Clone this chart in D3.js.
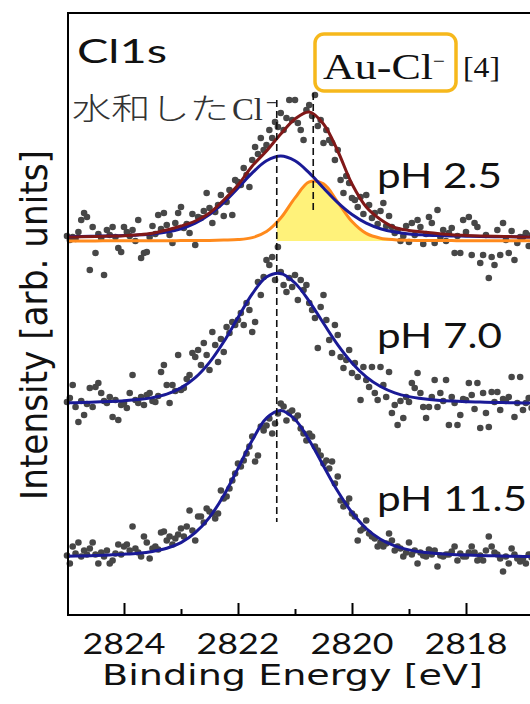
<!DOCTYPE html>
<html>
<head>
<meta charset="utf-8">
<script src="https://cdn.jsdelivr.net/npm/d3@7"></script>
<style>
body { margin: 0; background: #fff; }
</style>
</head>
<body>
<svg id="chart" width="530" height="704"></svg>
<script>
// energy grid of the fitted curves [eV]
let curveE = [2825, 2824.75, 2824.5, 2824.25, 2824, 2823.75, 2823.5, 2823.25, 2823, 2822.75,
    2822.5, 2822.25, 2822, 2821.75, 2821.5, 2821.25, 2821, 2820.75, 2820.5, 2820.25,
    2820, 2819.75, 2819.5, 2819.25, 2819, 2818.75, 2818.5, 2818.25, 2818, 2817.75,
    2817.5, 2817.25, 2817, 2816.75];

// fitted components (height above own baseline, arb. units)
let fitBlue25 = [1.3, 1.5, 1.8, 2.1, 2.5, 3.1, 4.1, 6.0, 9.3, 14.9, 23.5, 35.4, 50.0, 65.1, 77.2, 82.0,
    77.2, 65.1, 50.0, 35.4, 23.5, 14.9, 9.3, 6.0, 4.1, 3.1, 2.5, 2.1, 1.8, 1.5, 1.3, 1.2, 1.1, 0.9];
let fitOrange25 = [0.1, 0.1, 0.1, 0.2, 0.2, 0.2, 0.3, 0.3, 0.4, 0.5, 0.6, 0.9, 1.4, 3.4, 9.4, 22.9,
    43.1, 59.2, 57.1, 38.9, 19.5, 7.6, 2.8, 1.3, 0.8, 0.6, 0.5, 0.4, 0.3, 0.3, 0.2, 0.2, 0.2, 0.1];
let fitTotal25 = [1.0, 1.2, 1.5, 1.9, 2.3, 3.2, 4.8, 8.0, 12.0, 17.0, 25.0, 38, 53, 72, 87, 104,
    119, 126, 114, 87, 54, 31, 18.5, 10.5, 7.5, 6, 4.5, 3.3, 2.6, 2.1, 1.7, 1.4, 1.1, 1.0];
let fitBlue70 = [2.2, 2.5, 3.0, 3.5, 4.2, 5.4, 7.4, 10.9, 17.1, 27.3, 42.6, 63.2, 87.4, 111.1, 128.0,
    131.5, 122.0, 103.7, 81.7, 60.2, 42.1, 28.2, 18.5, 12.2, 8.4, 6.2, 4.8, 3.9, 3.3, 2.9, 2.5, 2.3, 2.0, 1.8];
let fitBlue115 = [2.3, 2.6, 3.0, 3.6, 4.3, 5.3, 7.1, 10.2, 15.9, 25.8, 41.2, 63.1, 90.1, 118.2, 140.3,
    147.9, 139.0, 118.3, 92.5, 67.2, 46.0, 30.0, 19.3, 12.6, 8.6, 6.3, 5.0, 4.1, 3.5, 3.0, 2.7, 2.3, 2.1, 1.9];

// measured points, one every 0.05 eV starting at 2825 eV
let scanStart = 2825;
let scanStep = 0.05;
let counts25 = [
    2, -2, 1, -1, 6, 18, 25, 21, -32, 11, -15, 4, 0, -37, 8, 3, 11, 1, -10, -14,
    11, 6, 2, 8, -3, 18, -20, -15, -14, 1, 12, 4, 23, 9, 25, 13, 3, -5, 15, 25,
    31, 10, 14, 5, 24, -7, 21, 20, 27, 45, 30, 15, 26, 33, 43, 22, 36, 48, 23, 58,
    56, 53, 70, 63, 51, 78, 91, 84, 100, 88, 93, 108, 100, 116, 111, 125, 108, 120, 138, 118,
    138, 115, 108, 98, 128, 133, 122, 143, 112, 118, 95, 108, 98, 95, 78, 88, 58, 45, 62, 55,
    40, 38, 31, 41, 24, 43, 33, 20, 25, 14, 27, 35, 12, 22, 11, 5, 8, -3, 2, 12,
    -4, 15, 3, 18, 11, -6, 4, 21, 15, -5, 28, 1, 8, -3, 5, 10, -15, 2, -15, 18,
    6, 21, -17, 15, 11, -25, -17, 3, -40, -19, -27, 8, -17, 15, -2, -15, 7, -22, -5, 1,
    1, 5, -8, 3, 0];
let counts70 = [
    3, 7, 20, -2, -17, 4, -10, 1, 17, -2, 18, 22, 12, 4, 2, 8, -12, 5, -15, 0,
    2, -3, 12, 30, 5, 2, 8, 0, 10, 12, 4, 3, 9, 33, 40, 20, 2, 20, 14, 50,
    15, 17, 26, 30, 52, 48, 55, 40, 62, 50, 35, 73, 60, 43, 66, 53, 78, 72, 83, 80,
    85, 92, 80, 102, 95, 73, 83, 123, 110, 128, 145, 140, 148, 125, 158, 133, 120, 113, 127, 118,
    130, 105, 125, 115, 120, 102, 95, 87, 57, 98, 110, 85, 65, 52, 80, 70, 48, 37, 45, 55,
    32, 42, 28, 5, 38, 25, 18, 38, 12, 5, 38, 20, 8, 33, -8, 0, -20, 4, -13, 8,
    3, 22, 17, 32, 12, -2, -13, -2, 8, 25, -2, 12, 4, 25, -20, 8, 2, -20, -10, 6,
    5, 22, 10, -4, 22, -23, 12, -8, -22, 13, 3, 13, -5, 6, 4, 8, 28, -12, 2, 28,
    -5, 2, 7, -3, 4];
let counts115 = [
    3, -5, 12, 5, 16, 2, 8, 4, 10, 16, 4, -5, 6, 2, 8, -5, -2, 5, 14, 4,
    12, 14, 8, 32, 10, 6, 2, 22, 16, 0, 10, 12, 9, 26, 27, 18, 22, 14, 20, 24,
    30, 22, 32, 48, 28, 18, 42, 42, 36, 50, 47, 45, 40, 45, 68, 60, 62, 70, 78, 85,
    95, 92, 98, 105, 112, 122, 97, 103, 132, 128, 133, 140, 125, 135, 145, 155, 152, 138, 146, 148,
    140, 143, 130, 125, 118, 125, 122, 112, 108, 103, 95, 98, 90, 97, 75, 82, 58, 52, 55, 60,
    45, 42, 18, 28, 30, 38, 25, 22, 20, 12, 16, 12, 15, 25, 18, 8, 12, 10, 2, 6,
    16, 4, 8, -5, 6, 3, 2, 9, 4, 8, -8, 3, 2, 4, 4, 7, 12, -2, 5, 2,
    2, 6, 12, 6, -2, 3, -2, 8, 22, 12, 6, 4, 0, -13, 2, -5, 10, 4, 0, -3,
    0, -5, 4, 1, -2];

let phLabels = ["pH 2.5", "pH 7.0", "pH 11.5"];
let baselines = [377, 210, 56.5];
let orangeBaseline = 374;
let majorTicks = [2824, 2822, 2820, 2818];
let minorTicks = [2823, 2821, 2819];
// dashed markers: hydrated Cl- and Au-Cl- positions
let peakE = [2821.32, 2820.68];
let peakTop = [515, 522];
let peakBottom = [93, 403];

// text squeezed/stretched horizontally to a given width (the source figure is stretched)
function addText(svg, str, px, py, size, family, len, color) {
    let t = svg.append("text")
        .attr("font-family", family)
        .attr("font-size", size)
        .attr("fill", color || "#111")
        .text(str);
    let natural = t.node().getComputedTextLength();
    t.attr("transform", "translate(" + px + "," + py + ") scale(" + (len / natural) + ",1)");
    return t;
}

function drawChart() {
    let svg = d3.select("#chart");
    let x = d3.scaleLinear().domain([2825, 2816.8]).range([67, 534.4]);
    let y = d3.scaleLinear().domain([0, 602]).range([615, 13]);

    let scanE = counts25.map((v, i) => scanStart - scanStep * i);
    let spectra = [counts25, counts70, counts115];

    spectra.forEach((counts, k) => {
        svg.append("g").selectAll("circle").data(counts).join("circle")
            .attr("cx", (d, i) => x(scanE[i]))
            .attr("cy", d => y(d + baselines[k]))
            .attr("r", 3.3)
            .attr("fill", "#474747");
    });

    // yellow part of the Au-Cl- component, right of the hydrated Cl- line
    svg.append("clipPath").attr("id", "auClip").append("rect")
        .attr("x", x(peakE[0])).attr("y", 0)
        .attr("width", 600).attr("height", 704);
    let area = d3.area()
        .x((d, i) => x(curveE[i]))
        .y0(y(orangeBaseline))
        .y1(d => y(d + orangeBaseline))
        .curve(d3.curveCatmullRom);
    svg.append("path").datum(fitOrange25)
        .attr("d", area)
        .attr("fill", "#fff27a")
        .attr("clip-path", "url(#auClip)");

    function fitLine(values, base, color) {
        let line = d3.line()
            .x((d, i) => x(curveE[i]))
            .y(d => y(d + base))
            .curve(d3.curveCatmullRom);
        svg.append("path").datum(values)
            .attr("d", line)
            .attr("fill", "none")
            .attr("stroke", color)
            .attr("stroke-width", 3);
    }
    fitLine(fitOrange25, orangeBaseline, "#ff8a1c");
    fitLine(fitBlue25, baselines[0], "#1a1a96");
    fitLine(fitTotal25, baselines[0], "#801818");
    fitLine(fitBlue70, baselines[1], "#1a1a96");
    fitLine(fitBlue115, baselines[2], "#1a1a96");

    for (let i = 0; i < peakE.length; ++i) {
        svg.append("line")
            .attr("x1", x(peakE[i])).attr("x2", x(peakE[i]))
            .attr("y1", y(peakTop[i])).attr("y2", y(peakBottom[i]))
            .attr("stroke", "#111")
            .attr("stroke-width", 1.6)
            .attr("stroke-dasharray", "7,4");
    }

    // frame
    svg.append("rect")
        .attr("x", 68).attr("y", 13)
        .attr("width", 480).attr("height", 602)
        .attr("fill", "none")
        .attr("stroke", "#000")
        .attr("stroke-width", 2);

    let gMajor = svg.append("g").attr("transform", "translate(0,615)")
        .call(d3.axisBottom(x).tickValues(majorTicks).tickSize(-12).tickSizeOuter(0).tickFormat(""));
    let gMinor = svg.append("g").attr("transform", "translate(0,615)")
        .call(d3.axisBottom(x).tickValues(minorTicks).tickSize(-6).tickSizeOuter(0).tickFormat(""));
    [gMajor, gMinor].forEach(g => {
        g.select(".domain").remove();
        g.selectAll("line").attr("stroke", "#000").attr("stroke-width", 2);
    });
    let tickW = 83;
    majorTicks.forEach(t => addText(svg, String(t), x(t) - tickW / 2, 654, 29, "Lato", tickW));

    addText(svg, "Binding Energy [eV]", 102, 685, 28, "DejaVu Sans", 381);

    let yLabel = svg.append("text")
        .attr("text-anchor", "middle")
        .attr("font-family", "DejaVu Sans")
        .attr("font-size", 29)
        .attr("fill", "#111")
        .text("Intensity [arb. units]");
    let yLen = yLabel.node().getComputedTextLength();
    yLabel.attr("transform", "translate(47,325) scale(1.28,1) rotate(-90) scale(" + (350 / yLen) + ",1)");

    addText(svg, "Cl1s", 77, 63, 32, "Lato", 90);
    addText(svg, "水和した", 72, 119, 30, "Noto Sans CJK JP", 157, "#333").attr("font-weight", 300);
    addText(svg, "Cl", 232, 120, 32, "Liberation Serif", 31, "#333");
    addText(svg, "\u2212", 266, 110, 22, "Liberation Serif", 11, "#333");

    svg.append("rect")
        .attr("x", 315).attr("y", 34)
        .attr("width", 141).attr("height", 57)
        .attr("rx", 9)
        .attr("fill", "#fff")
        .attr("stroke", "#f6b81c")
        .attr("stroke-width", 3.5);
    addText(svg, "Au-Cl", 323, 79, 36, "Liberation Serif", 110);
    addText(svg, "\u2212", 433, 69, 24, "Liberation Serif", 12);
    addText(svg, "[4]", 463, 77, 30, "Liberation Serif", 37);

    let labelY = [188, 348, 511];
    let labelW = [125, 125, 150];
    phLabels.forEach((t, k) => addText(svg, t, 377, labelY[k], 35, "Lato", labelW[k]));
}

drawChart();
</script>
</body>
</html>
